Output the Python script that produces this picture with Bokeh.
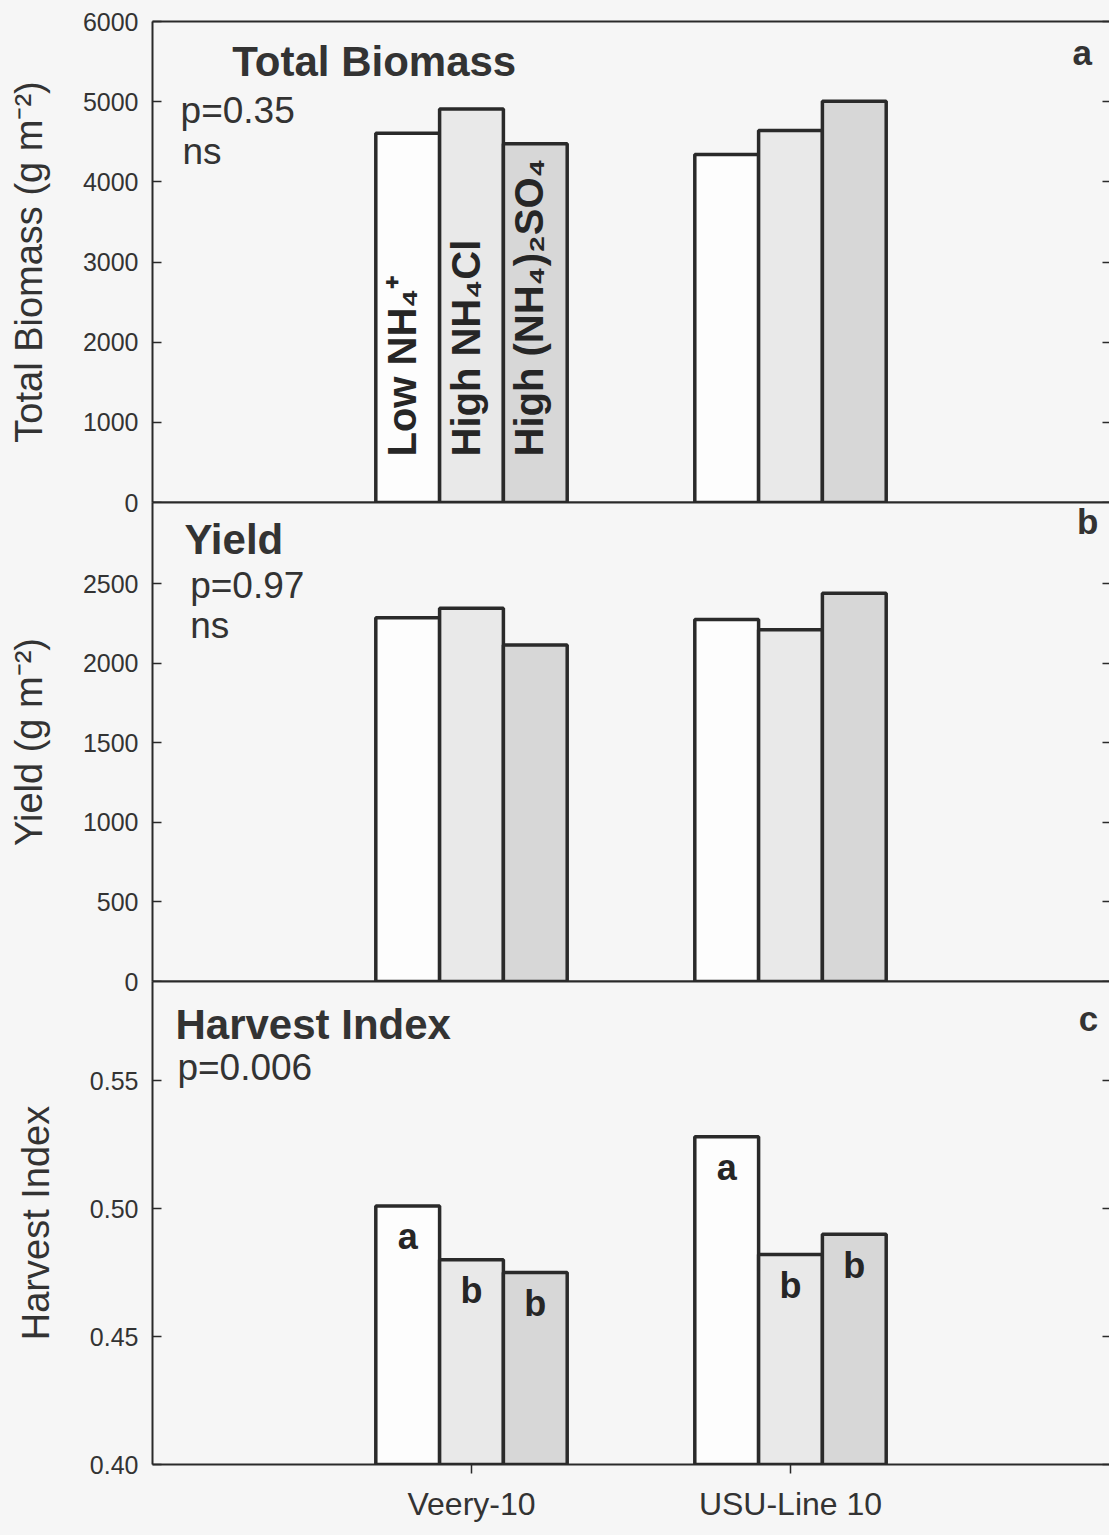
import math

from bokeh.core.properties import value
from bokeh.embed import file_html
from bokeh.layouts import column
from bokeh.models import (ColumnDataSource, CustomJSTickFormatter, FixedTicker,
                          Label, LinearAxis, NumeralTickFormatter, Range1d)
from bokeh.plotting import figure
from bokeh.resources import INLINE

# ---- data -------------------------------------------------------------
cultivars = ["Veery-10", "USU-Line 10"]
treatments = ["Low NH₄⁺", "High NH₄Cl", "High (NH₄)₂SO₄"]

biomass_low = [4605, 4340]
biomass_cl = [4910, 4640]
biomass_so4 = [4475, 5005]

yield_low = [2285, 2275]
yield_cl = [2345, 2210]
yield_so4 = [2115, 2440]

hi_low = [0.501, 0.528]
hi_cl = [0.480, 0.482]
hi_so4 = [0.475, 0.490]
hi_letters_low = ["a", "a"]
hi_letters_cl = ["b", "b"]
hi_letters_so4 = ["b", "b"]

biomass_ticks = [0, 1000, 2000, 3000, 4000, 5000, 6000]
yield_ticks = [0, 500, 1000, 1500, 2000, 2500]
hi_ticks = [0.40, 0.45, 0.50, 0.55]

# ---- style ------------------------------------------------------------
FONT = "Liberation Sans"
INK = "#2a2a2a"
TXT = "#333333"
BG = "#f6f6f6"
FILLS = ["#fdfdfd", "#e9e9e9", "#d7d7d7"]
OFFSETS = [-0.2, 0.0, 0.2]
BAR_W = 0.2
W = 1109
PAD = 14          # room kept below/above a frame for a half tick label

group_x = [i + 1 for i in range(len(cultivars))]


def edge_axis():
    """Plain axis line used as a panel border."""
    return LinearAxis(ticker=FixedTicker(ticks=[]),
                      axis_line_color=INK, axis_line_width=2,
                      major_tick_in=0, major_tick_out=0,
                      minor_tick_in=0, minor_tick_out=0,
                      major_label_standoff=0)


def make_panel(y0, y1, ticks, ylabel, height, top, bottom, fmt=None):
    p = figure(width=W, height=height, x_range=Range1d(0, 3),
               y_range=Range1d(y0, y1), output_backend="svg",
               toolbar_location=None, x_axis_location=None,
               y_axis_location=None, min_border_left=152,
               min_border_right=0, min_border_top=top,
               min_border_bottom=bottom)
    p.grid.visible = False
    p.outline_line_color = None
    p.background_fill_color = BG
    p.border_fill_color = None

    left = LinearAxis(ticker=FixedTicker(ticks=ticks), axis_label=ylabel,
                      axis_line_color=INK, axis_line_width=2,
                      major_tick_in=9, major_tick_out=0,
                      major_tick_line_color=INK, major_tick_line_width=1.5,
                      minor_tick_in=0, minor_tick_out=0,
                      major_label_text_font=FONT,
                      major_label_text_font_size="25px",
                      major_label_text_color=TXT,
                      major_label_standoff=14,
                      axis_label_text_font=FONT,
                      axis_label_text_font_size="38px",
                      axis_label_text_font_style="normal",
                      axis_label_text_color=TXT,
                      axis_label_standoff=30)
    if fmt:
        left.formatter = NumeralTickFormatter(format=fmt)
    p.add_layout(left, "left")

    # inward tick marks along the right edge, without labels
    right = LinearAxis(ticker=FixedTicker(ticks=ticks),
                       formatter=CustomJSTickFormatter(code="return ''"),
                       axis_line_color=None,
                       major_tick_in=7, major_tick_out=0,
                       major_tick_line_color=INK, major_tick_line_width=1.5,
                       minor_tick_in=0, minor_tick_out=0,
                       major_label_standoff=0)
    p.add_layout(right, "right")
    return p


def draw_bars(p, series):
    for vals, off, fill in zip(series, OFFSETS, FILLS):
        src = ColumnDataSource(dict(x=[g + off for g in group_x], top=vals))
        p.vbar(x="x", top="top", width=BAR_W, bottom=p.y_range.start,
               source=src, fill_color=fill, line_color=INK, line_width=3.5)


def add_text(p, text, x, y, size, bold=False, align="left"):
    p.add_layout(Label(x=x, y=y, text=text, text_font=FONT,
                       text_font_size=size, text_color=TXT,
                       text_font_style="bold" if bold else "normal",
                       text_align=align, text_baseline="alphabetic"))


# ---- panel a: total biomass -------------------------------------------
pa = make_panel(0, 6000, biomass_ticks, "Total Biomass (g m⁻²)",
                height=21 + 481 + PAD, top=21, bottom=PAD)
pa.add_layout(edge_axis(), "above")
pa.add_layout(edge_axis(), "below")
draw_bars(pa, [biomass_low, biomass_cl, biomass_so4])

# treatment names written up the first group's bars
pa.text(x=[group_x[0] + off for off in OFFSETS], y=[0, 0, 0],
        text=treatments, angle=math.pi / 2, text_align="left",
        text_baseline="middle", x_offset=-6, y_offset=-46,
        text_font=value(FONT), text_font_size="40px",
        text_font_style="bold", text_color="#262626")

add_text(pa, "Total Biomass", 0.25, 5495, "42px", bold=True)
add_text(pa, "p=0.35", 0.088, 4890, "37px")
add_text(pa, "ns", 0.094, 4380, "37px")
add_text(pa, "a", 2.945, 5610, "35px", bold=True, align="right")

# ---- panel b: yield ---------------------------------------------------
pb = make_panel(0, 3010, yield_ticks, "Yield (g m⁻²)",
                height=PAD + 479 + PAD, top=PAD, bottom=PAD)
pb.margin = (-2 * PAD, 0, 0, 0)
pb.add_layout(edge_axis(), "above")
pb.add_layout(edge_axis(), "below")
draw_bars(pb, [yield_low, yield_cl, yield_so4])

add_text(pb, "Yield", 0.1, 2775, "42px", bold=True)
add_text(pb, "p=0.97", 0.118, 2487, "37px")
add_text(pb, "ns", 0.118, 2235, "37px")
add_text(pb, "b", 2.965, 2890, "35px", bold=True, align="right")

# ---- panel c: harvest index -------------------------------------------
pc = make_panel(0.40, 0.5887, hi_ticks, "Harvest Index",
                height=PAD + 483 + 71, top=PAD, bottom=71, fmt="0.00")
pc.margin = (-2 * PAD, 0, 0, 0)
pc.add_layout(edge_axis(), "above")
bottom = LinearAxis(ticker=FixedTicker(ticks=group_x),
                    major_label_overrides={g: c for g, c in zip(group_x, cultivars)},
                    axis_line_color=INK, axis_line_width=2,
                    major_tick_in=0, major_tick_out=9,
                    major_tick_line_color=INK, major_tick_line_width=1.5,
                    minor_tick_in=0, minor_tick_out=0,
                    major_label_text_font=FONT,
                    major_label_text_font_size="32px",
                    major_label_text_color=TXT,
                    major_label_standoff=12)
pc.add_layout(bottom, "below")
draw_bars(pc, [hi_low, hi_cl, hi_so4])

for vals, off, letters in zip([hi_low, hi_cl, hi_so4], OFFSETS,
                              [hi_letters_low, hi_letters_cl, hi_letters_so4]):
    pc.text(x=[g + off for g in group_x], y=vals, text=letters,
            text_align="center", text_baseline="middle", y_offset=31,
            text_font=value(FONT), text_font_size="36px",
            text_font_style="bold", text_color="#262626")

add_text(pc, "Harvest Index", 0.072, 0.5719, "42px", bold=True)
add_text(pc, "p=0.006", 0.078, 0.5551, "37px")
add_text(pc, "c", 2.965, 0.5742, "35px", bold=True, align="right")

layout = column(pa, pb, pc, spacing=0, styles={"background-color": BG})
open("out.html", "w").write(file_html(layout, INLINE))
